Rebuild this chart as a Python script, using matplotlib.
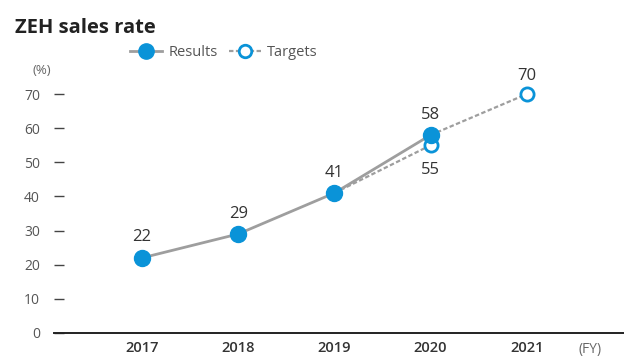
import matplotlib.pyplot as plt
from matplotlib.lines import Line2D

plt.rcParams['font.family'] = ['Open Sans', 'DejaVu Sans']

years = [2017, 2018, 2019, 2020, 2021]
result_years = [2017, 2018, 2019, 2020]
result_values = [22, 29, 41, 58]
target_years = [2019, 2020]
target_values = [41, 55]
outlook_years = [2020, 2021]
outlook_values = [58, 70]
yticks = [0, 10, 20, 30, 40, 50, 60, 70]

blue = '#0a93d8'
gray = '#9e9e9e'
text_c = '#333333'

fig = plt.figure(figsize=(6.24, 3.56), dpi=100)
ax = fig.add_axes([54 / 624, 23 / 356, 570 / 624, 252.6 / 356])

# dashed target lines
ax.plot(target_years, target_values, color=gray, lw=1.6, ls=(0, (2, 1.1)), zorder=2)
ax.plot(outlook_years, outlook_values, color=gray, lw=1.6, ls=(0, (2, 1.1)), zorder=2)
# hollow target markers
ax.plot(target_years[1:], target_values[1:], 'o', ms=9.5, mfc='white', mec=blue, mew=2, zorder=3)
ax.plot(outlook_years[1:], outlook_values[1:], 'o', ms=9.5, mfc='white', mec=blue, mew=2, zorder=3)
# results
ax.plot(result_years, result_values, color=gray, lw=2, marker='o', ms=11.5,
        mfc=blue, mec=blue, zorder=4)

for x, v in zip(result_years, result_values):
    ax.annotate(str(v), (x, v), xytext=(0, 9), textcoords='offset points',
                ha='center', va='bottom', fontsize=12, color=text_c)
ax.annotate(str(target_values[1]), (target_years[1], target_values[1]), xytext=(0, -12),
            textcoords='offset points', ha='center', va='top', fontsize=12, color=text_c)
ax.annotate(str(outlook_values[1]), (outlook_years[1], outlook_values[1]), xytext=(0, 7),
            textcoords='offset points', ha='center', va='bottom', fontsize=12, color=text_c)

ax.set_xlim(2016.086, 2022.01)
ax.set_ylim(0, 74)
ax.set_yticks(yticks)
ax.set_xticks(years)
ax.set_xticklabels([str(y) for y in years], fontweight='semibold')
ax.tick_params(axis='y', direction='in', length=7, width=1, color='#444444',
               pad=10, labelsize=10, labelcolor='#555555')
ax.tick_params(axis='x', length=0, pad=6, labelsize=10.5, labelcolor=text_c)
for s in ['top', 'right', 'left']:
    ax.spines[s].set_visible(False)
ax.spines['bottom'].set_color('#222222')
ax.spines['bottom'].set_linewidth(1.4)

fig.text(15 / 624, 1 - 28 / 356, 'ZEH sales rate', fontsize=14.5, fontweight='bold',
         color='#222222', va='center')
fig.text(42 / 624, 1 - 71 / 356, '(%)', fontsize=9.5, color='#666666', ha='center', va='center')
fig.text(590 / 624, 1 - 349 / 356, '(FY)', fontsize=10, color='#666666', ha='center', va='center')

handles = [
    Line2D([], [], color=gray, lw=2, marker='o', ms=11, mfc=blue, mec=blue),
    Line2D([], [], color=gray, lw=1.6, ls=(0, (2, 1.1)), marker='o', ms=9,
           mfc='white', mec=blue, mew=2),
]
fig.legend(handles, ['Results', 'Targets'], loc='center', bbox_to_anchor=(224 / 624, 1 - 53 / 356),
           ncol=2, frameon=False, fontsize=10.5, handlelength=2.2, columnspacing=0.8,
           handletextpad=0.4, labelcolor='#555555')

fig.savefig('out.png', dpi=100)
